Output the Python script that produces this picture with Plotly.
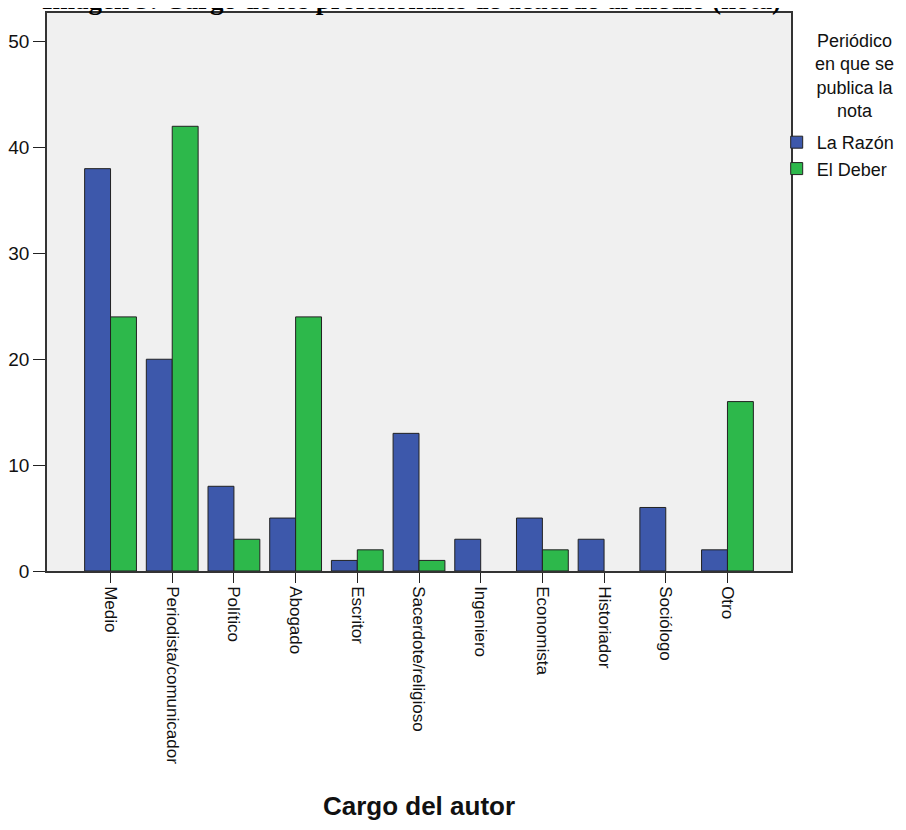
import plotly.graph_objects as go

categories = ["Medio", "Periodista/comunicador", "Político", "Abogado", "Escritor",
              "Sacerdote/religioso", "Ingeniero", "Economista", "Historiador",
              "Sociólogo", "Otro"]
la_razon = [38, 20, 8, 5, 1, 13, 3, 5, 3, 6, 2]
el_deber = [24, 42, 3, 24, 2, 1, 0, 2, 0, 0, 16]
series_names = ["La Razón", "El Deber"]
y_ticks = [0, 10, 20, 30, 40, 50]
chart_title = "Imagen 3: Cargo de los profesionales de acuerdo al medio (nota)"
legend_title = "Periódico<br>en que se<br>publica la<br>nota"

BLUE = "#3d58ab"
GREEN = "#2db84b"
FONT = "Liberation Sans, Arial, sans-serif"


def outline_widths(values):
    return [1 if v > 0 else 0 for v in values]


fig = go.Figure()
fig.add_trace(go.Bar(x=categories, y=la_razon, name=series_names[0],
                     marker=dict(color=BLUE,
                                 line=dict(color="#222222", width=outline_widths(la_razon)))))
fig.add_trace(go.Bar(x=categories, y=el_deber, name=series_names[1],
                     marker=dict(color=GREEN,
                                 line=dict(color="#222222", width=outline_widths(el_deber)))))

fig.update_layout(
    width=898, height=822,
    margin=dict(l=39, r=115, t=5, b=259, autoexpand=False),
    paper_bgcolor="white",
    plot_bgcolor="#f0f0f0",
    barmode="group",
    bargap=0.16,
    bargroupgap=0,
    font=dict(family=FONT, size=17, color="#111111"),
    legend=dict(
        xref="container", yref="container",
        x=0.856, xanchor="left", y=0.8589, yanchor="top",
        font=dict(family=FONT, size=18, color="#111111"),
        bgcolor="rgba(0,0,0,0)",
        itemwidth=30,
        tracegroupgap=0,
    ),
    showlegend=True,
    annotations=[
        dict(
            text="<b>" + chart_title + "</b>",
            xref="paper", yref="paper", x=0.49, y=1.024,
            xanchor="center", yanchor="middle", showarrow=False,
            font=dict(family="Liberation Serif, Times New Roman, serif", size=27, color="#000000"),
        ),
        dict(
            text=legend_title,
            xref="paper", yref="paper", x=1.086, y=1.0 - 16 / 558,
            xanchor="center", yanchor="top", align="center", showarrow=False,
            font=dict(family=FONT, size=18, color="#111111"),
        ),
    ],
)

fig.update_xaxes(
    range=[-1.03, 11.03],
    tickangle=90,
    ticks="outside", ticklen=10, tickcolor="#222222", tickwidth=1,
    showline=True, linecolor="#333333", linewidth=1.5, mirror=True,
    showgrid=False,
    automargin=False,
    tickfont=dict(family=FONT, size=17, color="#111111"),
    title=dict(text="<b>Cargo del autor</b>",
               font=dict(family=FONT, size=26, color="#111111"),
               standoff=34),
)
fig.update_yaxes(
    range=[0, 52.7],
    tickvals=y_ticks,
    ticks="outside", ticklen=12, tickcolor="#222222", tickwidth=1,
    showline=True, linecolor="#333333", linewidth=1.5, mirror=True,
    showgrid=False, zeroline=False,
    automargin=False,
    tickfont=dict(family=FONT, size=19, color="#111111"),
)

fig.write_html("out.html")
